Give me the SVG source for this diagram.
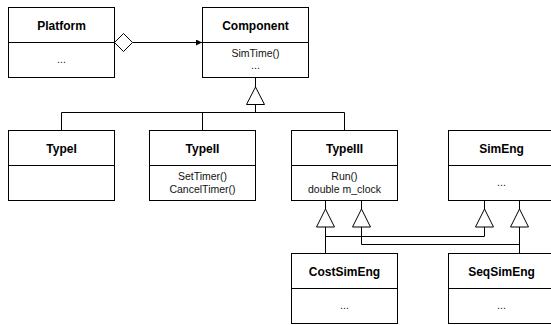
<svg xmlns="http://www.w3.org/2000/svg" width="551" height="325" viewBox="0 0 551 325">
<style>
.box{fill:#fff;stroke:#000;stroke-width:1}
.div{stroke:#000;stroke-width:1}
.title{font-family:"Liberation Sans",Arial,sans-serif;font-weight:bold;font-size:12px;text-anchor:middle;fill:#000}
.body{font-family:"Liberation Sans",Arial,sans-serif;font-size:10.5px;text-anchor:middle;fill:#111}
.conn{stroke:#000;stroke-width:1;fill:none}
.tri{fill:#fff;stroke:#000;stroke-width:1}
</style>
<defs>
<marker id="arr" markerWidth="7" markerHeight="6" refX="6" refY="3" orient="auto" markerUnits="userSpaceOnUse">
<path d="M0,0 L6,3 L0,6 Z" fill="#000"/>
</marker>
</defs>
<rect width="551" height="325" fill="#fff"/>
<g id="connectors">
<line class="conn" x1="132.5" y1="42.5" x2="202" y2="42.5" marker-end="url(#arr)"/>
<polygon class="tri" points="114.5,42.5 123.5,33.5 132.5,42.5 123.5,51.5"/>
<path class="conn" d="M255.5,77.5 V87 M255.5,104.5 V112.5 M61.5,112.5 H344.5 M61.5,112.5 V130.5 M202.5,112.5 V130.5 M344.5,112.5 V130.5"/>
<polygon class="tri" points="255.5,87 246.5,104.5 264.5,104.5"/>
<path class="conn" d="M325.5,200.5 V209 M361.5,200.5 V209 M484.5,200.5 V209 M519.5,200.5 V209"/>
<path class="conn" d="M325.5,227 V253.5 M325.5,236.5 H484.5 V227 M361.5,227 V244.5 H519.5 M519.5,227 V253.5"/>
<polygon class="tri" points="325.5,209 316.5,227 334.5,227"/>
<polygon class="tri" points="361.5,209 352.5,227 370.5,227"/>
<polygon class="tri" points="484.5,209 475.5,227 493.5,227"/>
<polygon class="tri" points="519.5,209 510.5,227 528.5,227"/>
</g>
<g id="Platform">
<rect class="box" x="8.5" y="7.5" width="106" height="70"/>
<line class="div" x1="8.5" y1="42.5" x2="114.5" y2="42.5"/>
<text class="title" x="61.5" y="30">Platform</text>
<text class="body" x="61.5" y="63">...</text>
</g>
<g id="Component">
<rect class="box" x="202.5" y="7.5" width="106" height="70"/>
<line class="div" x1="202.5" y1="42.5" x2="308.5" y2="42.5"/>
<text class="title" x="255.5" y="30">Component</text>
<text class="body" x="255.5" y="57">SimTime()</text>
<text class="body" x="255.5" y="69">...</text>
</g>
<g id="TypeI">
<rect class="box" x="8.5" y="130.5" width="106" height="70"/>
<line class="div" x1="8.5" y1="165.5" x2="114.5" y2="165.5"/>
<text class="title" x="61.5" y="153">TypeI</text>
</g>
<g id="TypeII">
<rect class="box" x="149.5" y="130.5" width="106" height="70"/>
<line class="div" x1="149.5" y1="165.5" x2="255.5" y2="165.5"/>
<text class="title" x="202.5" y="153">TypeII</text>
<text class="body" x="202.5" y="180">SetTimer()</text>
<text class="body" x="202.5" y="193">CancelTimer()</text>
</g>
<g id="TypeIII">
<rect class="box" x="291.5" y="130.5" width="106" height="70"/>
<line class="div" x1="291.5" y1="165.5" x2="397.5" y2="165.5"/>
<text class="title" x="344.5" y="153">TypeIII</text>
<text class="body" x="344.5" y="180">Run()</text>
<text class="body" x="344.5" y="193">double m_clock</text>
</g>
<g id="SimEng">
<rect class="box" x="448.5" y="130.5" width="106" height="70"/>
<line class="div" x1="448.5" y1="165.5" x2="554.5" y2="165.5"/>
<text class="title" x="501.5" y="153">SimEng</text>
<text class="body" x="501.5" y="186">...</text>
</g>
<g id="CostSimEng">
<rect class="box" x="291.5" y="253.5" width="106" height="70"/>
<line class="div" x1="291.5" y1="288.5" x2="397.5" y2="288.5"/>
<text class="title" x="344.5" y="276">CostSimEng</text>
<text class="body" x="344.5" y="309">...</text>
</g>
<g id="SeqSimEng">
<rect class="box" x="448.5" y="253.5" width="106" height="70"/>
<line class="div" x1="448.5" y1="288.5" x2="554.5" y2="288.5"/>
<text class="title" x="501.5" y="276">SeqSimEng</text>
<text class="body" x="501.5" y="309">...</text>
</g>
</svg>
